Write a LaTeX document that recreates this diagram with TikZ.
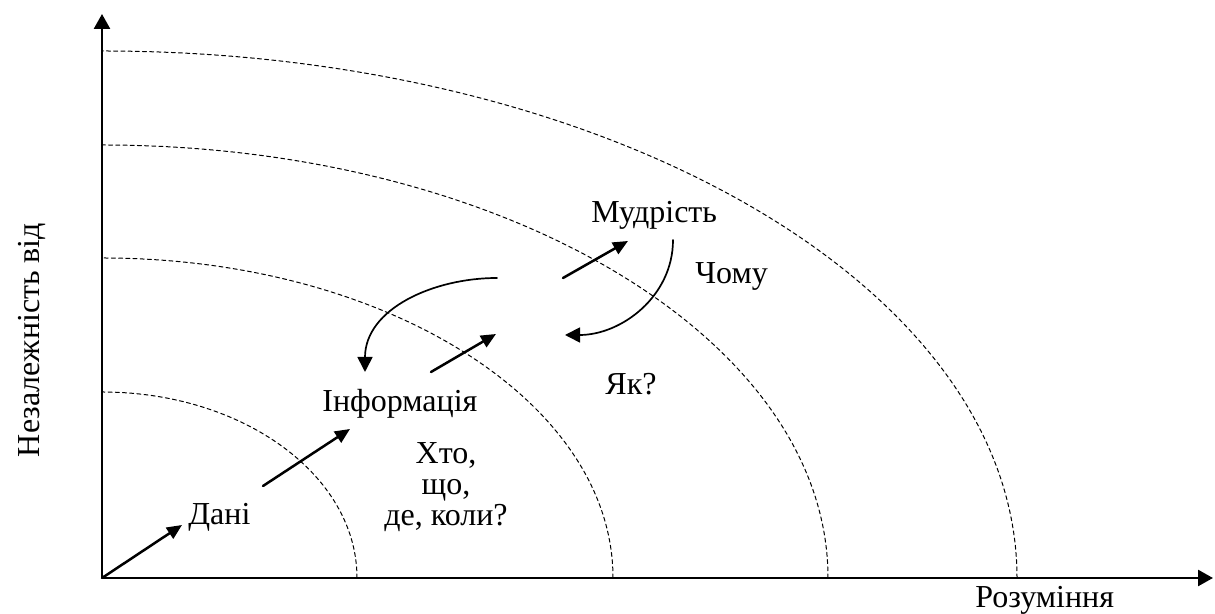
\documentclass[tikz,border=0pt]{standalone}
\usepackage{fontspec}
\setmainfont{Liberation Serif}
\usetikzlibrary{arrows.meta}
\definecolor{dikwink}{HTML}{000000}

\begin{document}
\begin{tikzpicture}[x=0.5pt,y=0.5pt,line cap=round,
    lbl/.style={dikwink,font=\fontsize{16}{15.6}\selectfont,inner sep=0pt},
    axis/.style={dikwink,line width=1.3pt,line cap=butt,-{Triangle[length=7.5pt,width=8pt]}},
    ring/.style={dikwink,line width=0.5pt,dash pattern=on 2pt off 1.6pt},
    push/.style={dikwink,line width=1.25pt,-{Triangle[length=7.5pt,width=6.5pt]}},
    loopback/.style={dikwink,line width=0.85pt,-{Triangle[length=7.5pt,width=7.5pt]}}]
    \useasboundingbox (-102,-36) rectangle (1113,578);
    \coordinate (o) at (0,0);
    \coordinate (xend) at (1111,0);
    \coordinate (yend) at (0,564);
    \foreach \a/\b in {255/186,511/320,726/433,915/527}
      \draw[ring] (\a,0) arc[start angle=0,end angle=90,x radius=\a,y radius=\b];
    \draw[axis] (o) -- (xend);
    \draw[axis] (o) -- (yend);
    \node[lbl,anchor=base west] (razum) at (873,-30) {Розуміння};
    \node[lbl,anchor=base,rotate=90] (nezal) at (-62,238) {Незалежність від};
    \node[lbl,anchor=base west] (dani) at (86,53) {Дані};
    \node[lbl,anchor=base west] (inform) at (220,166) {Інформація};
    \node[lbl,align=center] (khto) at (344,91) {Хто,\\що,\\де, коли?};
    \node[lbl,anchor=base west] (yak) at (503,183) {Як?};
    \node[lbl,anchor=base west] (mudr) at (489,355) {Мудрість};
    \node[lbl,anchor=base west] (chomu) at (593,294) {Чому};
    \coordinate (d1) at (80,53);
    \coordinate (i0) at (161,92);
    \coordinate (i1) at (248,149);
    \coordinate (k0) at (329,206);
    \coordinate (k1) at (394,244);
    \coordinate (m0) at (461,300);
    \coordinate (m1) at (526,337);
    \coordinate (b0) at (395,300);
    \coordinate (b1) at (263,206);
    \coordinate (c0) at (571,338);
    \coordinate (c1) at (463,243);
    \draw[push] (o) -- (d1);
    \draw[push] (i0) -- (i1);
    \draw[push] (k0) -- (k1);
    \draw[push] (m0) -- (m1);
    \draw[loopback] (b0) to[out=180,in=90] (b1);
    \draw[loopback] (c0) to[out=-90,in=0] (c1);
  \end{tikzpicture}
\end{document}
